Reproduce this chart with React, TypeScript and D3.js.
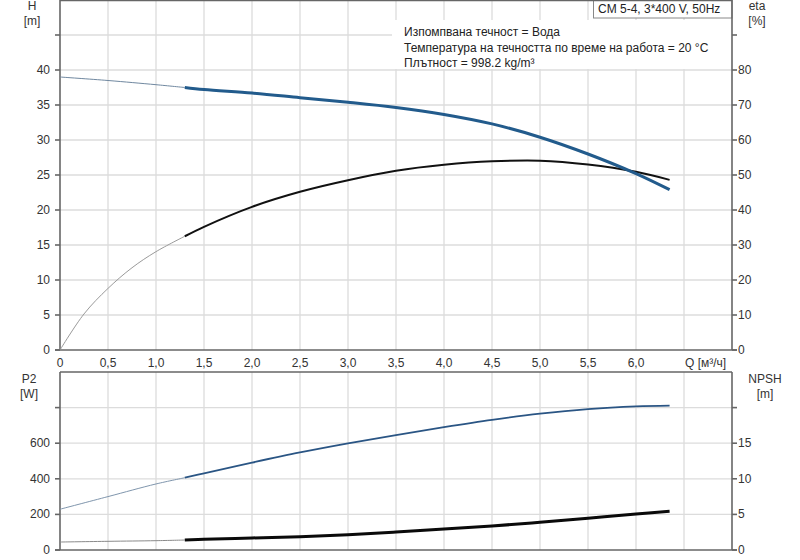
import React, { useRef, useEffect } from 'react';
import * as d3 from 'd3';

// flow points [m3/h]
const qMain = [0, 0.5, 1.0, 1.3, 1.5, 2.0, 2.5, 3.0, 3.5, 4.0, 4.5, 5.0, 5.5, 6.0, 6.35];
const headH = [39.0, 38.5, 37.9, 37.5, 37.2, 36.7, 36.05, 35.4, 34.65, 33.65, 32.3, 30.4, 28.0, 25.2, 22.9];
const powerP2 = [229, 300, 371, 406, 431, 491, 548, 599, 646, 690, 731, 766, 792, 807, 811];
const npshR = [1.12, 1.22, 1.31, 1.4, 1.5, 1.69, 1.87, 2.15, 2.53, 2.95, 3.37, 3.89, 4.45, 5.06, 5.43];

const qEta = [0, 0.25, 0.5, 0.75, 1.0, 1.3, 1.5, 2.0, 2.5, 3.0, 3.5, 4.0, 4.5, 5.0, 5.5, 6.0, 6.35];
const etaPct = [0, 10.3, 17.6, 23.5, 28.1, 32.5, 35.2, 40.9, 45.2, 48.5, 51.2, 52.9, 53.9, 54.1, 53.0, 50.9, 48.6];

const qTicks = [0, 0.5, 1.0, 1.5, 2.0, 2.5, 3.0, 3.5, 4.0, 4.5, 5.0, 5.5, 6.0, 6.5];
const hTicks = [0, 5, 10, 15, 20, 25, 30, 35, 40, 45];
const etaTicks = [0, 10, 20, 30, 40, 50, 60, 70, 80, 90];
const p2Ticks = [0, 200, 400, 600, 800];
const npshTicks = [0, 5, 10, 15, 20];

const pumpName = 'CM 5-4, 3*400 V, 50Hz';
const infoLines = [
    'Изпомпвана течност = Вода',
    'Температура на течността по време на работа = 20 °C',
    'Плътност = 998.2 kg/m³',
];
const splitQ = 1.3; // curves are drawn thin below this flow

export default function App() {
    const svgRef = useRef<SVGSVGElement>(null);

    useEffect(() => {
        if (!svgRef.current) return;
        const width = 800;
        const height = 560;
        const svg = d3.select(svgRef.current)
            .attr('width', width)
            .attr('height', height)
            .attr('viewBox', `0 0 ${width} ${height}`);
        svg.selectAll('*').remove();

        const font = 'Liberation Sans, Arial, sans-serif';
        const left = 60;
        const right = 732;
        const upTop = 0;
        const upBot = 350;
        const loTop = 372;
        const loBot = 550;

        const x = d3.scaleLinear().domain([0, 7]).range([left, right]);
        const yH = d3.scaleLinear().domain([0, 50]).range([upBot, upTop]);
        const yEta = d3.scaleLinear().domain([0, 100]).range([upBot, upTop]);
        const yP = d3.scaleLinear().domain([0, 1000]).range([loBot, loTop]);
        const yN = d3.scaleLinear().domain([0, 25]).range([loBot, loTop]);

        const grid = svg.append('g').attr('stroke', '#dcdcdc').attr('stroke-width', 1.3);
        // vertical grid, both panels
        qTicks.filter(q => q > 0).forEach(q => {
            grid.append('line').attr('x1', x(q)).attr('x2', x(q)).attr('y1', upTop).attr('y2', upBot);
            grid.append('line').attr('x1', x(q)).attr('x2', x(q)).attr('y1', loTop).attr('y2', loBot);
        });
        hTicks.filter(t => t > 0).forEach(t => {
            grid.append('line').attr('x1', left).attr('x2', right).attr('y1', yH(t)).attr('y2', yH(t));
        });
        p2Ticks.filter(t => t > 0).forEach(t => {
            grid.append('line').attr('x1', left).attr('x2', right).attr('y1', yP(t)).attr('y2', yP(t));
        });

        // info box and pump name box
        svg.append('rect')
            .attr('x', 392).attr('y', 20).attr('width', right - 392).attr('height', 49)
            .attr('fill', 'white');
        infoLines.forEach((t, i) => {
            svg.append('text')
                .attr('x', 404).attr('y', 36 + i * 15.5)
                .attr('font-family', font).attr('font-size', 12).attr('fill', '#222')
                .text(t);
        });
        svg.append('rect')
            .attr('x', 593.5).attr('y', -1).attr('width', right - 593.5).attr('height', 19)
            .attr('fill', 'white').attr('stroke', '#888');
        svg.append('text')
            .attr('x', 598).attr('y', 13)
            .attr('font-family', font).attr('font-size', 12).attr('fill', '#222')
            .text(pumpName);

        // frames and axes
        const axisColor = '#666';
        const frame = svg.append('g').attr('stroke', axisColor).attr('stroke-width', 1.6).attr('fill', 'none');
        frame.append('line').attr('x1', left).attr('x2', right).attr('y1', 0.5).attr('y2', 0.5);
        frame.append('line').attr('x1', left - 5).attr('x2', right + 5).attr('y1', upBot).attr('y2', upBot);
        frame.append('line').attr('x1', left).attr('x2', left).attr('y1', upTop).attr('y2', upBot);
        frame.append('line').attr('x1', right).attr('x2', right).attr('y1', upTop).attr('y2', upBot);
        frame.append('line').attr('x1', left).attr('x2', right).attr('y1', loTop).attr('y2', loTop);
        frame.append('line').attr('x1', left - 5).attr('x2', right + 5).attr('y1', loBot).attr('y2', loBot);
        frame.append('line').attr('x1', left).attr('x2', left).attr('y1', loTop).attr('y2', loBot);
        frame.append('line').attr('x1', right).attr('x2', right).attr('y1', loTop).attr('y2', loBot);

        const label = (tx: number, ty: number, t: string, anchor = 'middle') =>
            svg.append('text')
                .attr('x', tx).attr('y', ty)
                .attr('text-anchor', anchor)
                .attr('font-family', font).attr('font-size', 12).attr('fill', '#333')
                .text(t);

        const fmt = (v: number) => (v === 0 ? '0' : d3.format('.1f')(v).replace('.', ','));

        // y ticks
        const tickSet = (vals: number[], sc: d3.ScaleLinear<number, number>, side: 'l' | 'r', labelled: number[]) => {
            vals.forEach(v => {
                const yy = sc(v);
                if (side === 'l') {
                    frame.append('line').attr('x1', left - 5).attr('x2', left).attr('y1', yy).attr('y2', yy);
                    if (labelled.includes(v)) label(50, yy + 4, String(v), 'end');
                } else {
                    frame.append('line').attr('x1', right).attr('x2', right + 5).attr('y1', yy).attr('y2', yy);
                    if (labelled.includes(v)) label(738, yy + 4, String(v), 'start');
                }
            });
        };
        tickSet(hTicks, yH, 'l', hTicks.slice(0, -1));
        tickSet(etaTicks, yEta, 'r', etaTicks.slice(0, -1));
        tickSet(p2Ticks, yP, 'l', p2Ticks.slice(0, -1));
        tickSet(npshTicks, yN, 'r', npshTicks.slice(0, -1));

        // x tick labels; last slot holds the unit
        qTicks.forEach(q => {
            if (q < 6.5) label(x(q), 367, fmt(q));
        });
        svg.append('text')
            .attr('x', x(6.5) + 1).attr('y', 367)
            .attr('font-family', font).attr('font-size', 12).attr('fill', '#333')
            .text('Q [м³/ч]');

        // axis titles
        label(32, 10, 'H');
        label(32, 25, '[m]');
        label(757, 10, 'eta');
        label(757, 25, '[%]');
        label(29, 383, 'P2');
        label(29, 398, '[W]');
        label(765, 383, 'NPSH');
        label(765, 398, '[m]');

        // curves
        const drawCurve = (
            qs: number[], vs: number[], sc: d3.ScaleLinear<number, number>,
            thinColor: string, thickColor: string, thickW: number,
        ) => {
            const pts = qs.map((q, i) => [q, vs[i]] as [number, number]);
            const k = qs.indexOf(splitQ);
            const line = d3.line<[number, number]>()
                .x(d => x(d[0]))
                .y(d => sc(d[1]))
                .curve(d3.curveCatmullRom.alpha(0.5));
            svg.append('path')
                .datum(pts.slice(0, k + 1))
                .attr('fill', 'none').attr('stroke', thinColor).attr('stroke-width', 1)
                .attr('d', line);
            svg.append('path')
                .datum(pts.slice(k))
                .attr('fill', 'none').attr('stroke', thickColor).attr('stroke-width', thickW)
                .attr('stroke-linecap', 'butt')
                .attr('d', line);
        };
        drawCurve(qEta, etaPct, yEta, '#9a9a9a', '#111', 2);
        drawCurve(qMain, headH, yH, '#7088a0', '#225b8c', 3);
        drawCurve(qMain, powerP2, yP, '#8096ad', '#2a5584', 1.8);
        drawCurve(qMain, npshR, yN, '#8a8a8a', '#0a0a0a', 3);
    }, []);

    return (
        <svg
            ref={svgRef}
            style={{ position: 'absolute', left: 0, top: 0, display: 'block', background: 'white' }}
        />
    );
}
